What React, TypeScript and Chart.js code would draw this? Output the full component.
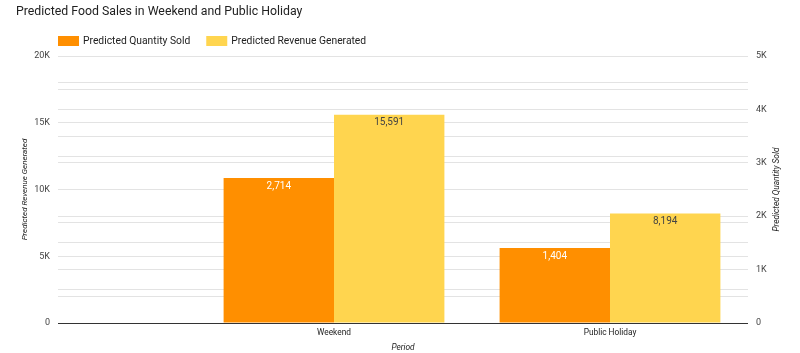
import { useEffect, useRef } from 'react';
import { Chart, registerables } from 'chart.js';

Chart.register(...registerables);

const chartTitle = 'Predicted Food Sales in Weekend and Public Holiday';
const categories = ['Weekend', 'Public Holiday'];
const categoryPositions = [1, 2];
const quantitySold = [2714, 1404];
const revenueGenerated = [15591, 8194];
const seriesNames = ['Predicted Quantity Sold', 'Predicted Revenue Generated'];
const seriesColors = ['#FF8F00', '#FFD54F'];
const labelColors = ['#ffffff', '#444444'];
const leftAxisTitle = 'Predicted Revenue Generated';
const rightAxisTitle = 'Predicted Quantity Sold';
const xAxisTitle = 'Period';

const FONT = 'Roboto, "Noto Sans", sans-serif';

const fmtK = (v: number) => (v === 0 ? '0' : v / 1000 + 'K');

const overlayPlugin = {
  id: 'overlay',
  afterDatasetsDraw(chart: any) {
    const ctx = chart.ctx as CanvasRenderingContext2D;
    ctx.save();
    ctx.font = `10px ${FONT}`;
    ctx.textAlign = 'center';
    ctx.textBaseline = 'middle';
    chart.data.datasets.forEach((ds: any, di: number) => {
      const meta = chart.getDatasetMeta(di);
      meta.data.forEach((bar: any, i: number) => {
        const v = ds.data[i].y as number;
        ctx.fillStyle = labelColors[di];
        ctx.fillText(v.toLocaleString('en-US'), bar.x, bar.y + 8);
      });
    });
    ctx.restore();
  },
  afterDraw(chart: any) {
    const ctx = chart.ctx as CanvasRenderingContext2D;
    const area = chart.chartArea;
    ctx.save();
    // title
    ctx.font = `12.3px ${FONT}`;
    ctx.fillStyle = '#212121';
    ctx.textAlign = 'left';
    ctx.textBaseline = 'middle';
    ctx.fillText(chartTitle, 16, 12);
    // legend
    ctx.font = `10.3px ${FONT}`;
    let x = area.left;
    seriesNames.forEach((name, i) => {
      ctx.fillStyle = seriesColors[i];
      ctx.fillRect(x, 36, 21, 10);
      ctx.fillStyle = '#222222';
      ctx.fillText(name, x + 25, 41.5);
      x += 25 + ctx.measureText(name).width + 16;
    });
    // axis titles
    ctx.fillStyle = '#222222';
    ctx.textAlign = 'center';
    const cy = (area.top + area.bottom) / 2;
    ctx.save();
    ctx.font = `italic 8px ${FONT}`;
    ctx.translate(25, cy);
    ctx.rotate(-Math.PI / 2);
    ctx.fillText(leftAxisTitle, 0, 0);
    ctx.restore();
    ctx.save();
    ctx.font = `italic 8.3px ${FONT}`;
    ctx.translate(777, cy);
    ctx.rotate(-Math.PI / 2);
    ctx.fillText(rightAxisTitle, 0, 0);
    ctx.restore();
    ctx.restore();
  },
};

export default function App() {
  const canvasRef = useRef<HTMLCanvasElement | null>(null);

  useEffect(() => {
    document.body.style.margin = '0';
    const canvas = canvasRef.current;
    if (!canvas) return;
    const chart = new Chart(canvas, {
      type: 'bar',
      data: {
        datasets: [
          {
            label: seriesNames[0],
            data: categoryPositions.map((x, i) => ({ x, y: quantitySold[i] })),
            backgroundColor: seriesColors[0],
            yAxisID: 'y1',
            categoryPercentage: 0.8,
            barPercentage: 1,
          },
          {
            label: seriesNames[1],
            data: categoryPositions.map((x, i) => ({ x, y: revenueGenerated[i] })),
            backgroundColor: seriesColors[1],
            yAxisID: 'y',
            categoryPercentage: 0.8,
            barPercentage: 1,
          },
        ],
      } as any,
      options: {
        animation: false,
        responsive: false,
        maintainAspectRatio: false,
        layout: { padding: { top: 56, left: 0, right: 0, bottom: 0 } },
        plugins: {
          legend: { display: false },
          title: { display: false },
          tooltip: { enabled: false },
        },
        scales: {
          x: {
            type: 'linear',
            offset: false,
            min: 0,
            max: 2.5,
            afterBuildTicks: (scale: any) => {
              scale.ticks = categoryPositions.map((v) => ({ value: v }));
            },
            afterFit: (scale: any) => {
              scale.height = 30;
            },
            grid: { display: false, drawTicks: false, offset: false },
            border: { display: false },
            ticks: {
              autoSkip: false,
              maxRotation: 0,
              padding: 5,
              color: '#222222',
              font: { family: FONT, size: 8.3 },
              callback: (v: any) => {
                const idx = categoryPositions.indexOf(Number(v));
                return idx >= 0 ? categories[idx] : '';
              },
            },
            title: {
              display: true,
              text: xAxisTitle,
              color: '#222222',
              font: { family: FONT, size: 8.3, style: 'italic' },
              padding: 0,
            },
          },
          y: {
            type: 'linear',
            position: 'left',
            min: 0,
            max: 20000,
            afterFit: (scale: any) => {
              scale.width = 58;
            },
            border: { display: false },
            grid: {
              drawTicks: false,
              color: (c: any) => (c.tick && c.tick.value === 0 ? '#333333' : '#e3e3e3'),
              lineWidth: 1,
            },
            ticks: {
              stepSize: 2500,
              autoSkip: false,
              maxTicksLimit: 50,
              padding: 8,
              color: '#444444',
              font: { family: FONT, size: 9 },
              callback: (v: any) => (Number(v) % 5000 === 0 ? fmtK(Number(v)) : ''),
            },
          },
          y1: {
            type: 'linear',
            position: 'right',
            min: 0,
            max: 5000,
            afterFit: (scale: any) => {
              scale.width = 52;
            },
            border: { display: false },
            grid: {
              drawTicks: false,
              drawOnChartArea: true,
              color: (c: any) => (c.tick && c.tick.value === 0 ? 'rgba(0,0,0,0)' : '#e3e3e3'),
              lineWidth: 1,
            },
            ticks: {
              stepSize: 500,
              autoSkip: false,
              maxTicksLimit: 50,
              padding: 8,
              color: '#444444',
              font: { family: FONT, size: 9 },
              callback: (v: any) => (Number(v) % 1000 === 0 ? fmtK(Number(v)) : ''),
            },
          },
        },
      } as any,
      plugins: [overlayPlugin],
    });
    return () => chart.destroy();
  }, []);

  return (
    <div style={{ width: 800, height: 353, position: 'relative', background: '#ffffff' }}>
      <canvas ref={canvasRef} width={800} height={353} style={{ display: 'block', width: 800, height: 353 }} />
    </div>
  );
}
